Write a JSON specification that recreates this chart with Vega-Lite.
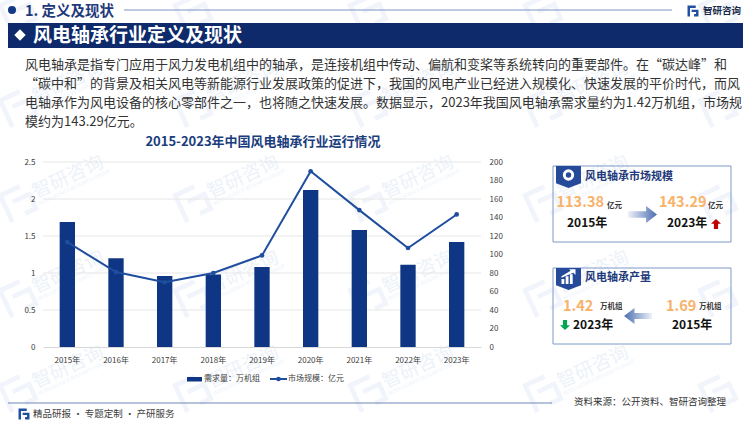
{
"$schema":"https://vega.github.io/schema/vega-lite/v6.json",
"width":438,"height":185,
"autosize":{"type":"none"},
"padding":{"left":43,"top":162,"right":269,"bottom":74},
"background":"white",
"config":{"font":"Noto Sans CJK SC","view":{"stroke":null},"scale":{"pointPadding":0}},
"datasets":{
"wm":[{"c":"a","r":"1"},{"c":"b","r":"1"},{"c":"c","r":"1"},{"c":"d","r":"1"},{"c":"a","r":"2"},{"c":"b","r":"2"},{"c":"c","r":"2"},{"c":"d","r":"2"},{"c":"a","r":"3"},{"c":"b","r":"3"},{"c":"c","r":"3"},{"c":"d","r":"3"},{"c":"a","r":"4"},{"c":"b","r":"4"},{"c":"c","r":"4"},{"c":"d","r":"4"}],
"wmlogo":[{"c":"a","r":"0"},{"c":"b","r":"0"},{"c":"c","r":"0"},{"c":"d","r":"0"},{"c":"e","r":"0"},{"c":"a","r":"1"},{"c":"b","r":"1"},{"c":"c","r":"1"},{"c":"d","r":"1"},{"c":"e","r":"1"},{"c":"a","r":"2"},{"c":"b","r":"2"},{"c":"c","r":"2"},{"c":"d","r":"2"},{"c":"e","r":"2"},{"c":"a","r":"3"},{"c":"b","r":"3"},{"c":"c","r":"3"},{"c":"d","r":"3"},{"c":"e","r":"3"},{"c":"a","r":"4"},{"c":"b","r":"4"},{"c":"c","r":"4"},{"c":"d","r":"4"},{"c":"e","r":"4"}],
"series":[
{"year":"2015年","demand":1.69,"market":113.38},
{"year":"2016年","demand":1.2,"market":81},
{"year":"2017年","demand":0.96,"market":70},
{"year":"2018年","demand":0.98,"market":80},
{"year":"2019年","demand":1.08,"market":99},
{"year":"2020年","demand":2.12,"market":190},
{"year":"2021年","demand":1.58,"market":148},
{"year":"2022年","demand":1.11,"market":107},
{"year":"2023年","demand":1.42,"market":143.29}],
"ticks":[{"v":0.5},{"v":1},{"v":1.5},{"v":2},{"v":2.5}]
},
"layer":[
{"data":{"name":"wm"},"mark":{"type":"text","text":"智研咨询","fontSize":19,"angle":335,"color":"#edf2f9"},
 "encoding":{"x":{"field":"c","type":"nominal","axis":null,"scale":{"type":"point","domain":["a","b","c","d"],"range":[25,550]}},"y":{"field":"r","type":"nominal","axis":null,"scale":{"type":"point","domain":["1","2","3","4"],"range":[-80,205]}}}},
{"data":{"name":"wm"},"mark":{"type":"text","text":"INTELLIGENCE RESEARCH GROUP","fontSize":5,"angle":335,"color":"#eef3fa"},
 "encoding":{"x":{"field":"c","type":"nominal","axis":null,"scale":{"type":"point","domain":["a","b","c","d"],"range":[31,556]}},"y":{"field":"r","type":"nominal","axis":null,"scale":{"type":"point","domain":["1","2","3","4"],"range":[-70,215]}}}},
{"data":{"name":"wmlogo"},"mark":{"type":"point","shape":"M-1,-1H0.5V-0.7H-0.7V1H-1Z M-0.3,-0.3H1V1H0.1V0.7H0.7V0H-0.3Z","size":1000,"angle":335,"filled":true,"fill":"#f1f5fb","opacity":1},
 "encoding":{"x":{"field":"c","type":"nominal","axis":null,"scale":{"type":"point","domain":["a","b","c","d","e"],"range":[-25,675]}},"y":{"field":"r","type":"nominal","axis":null,"scale":{"type":"point","domain":["0","1","2","3","4"],"range":[-150,230]}}}},

{"data":{"name":"series"},
 "layer":[
  {"data":{"name":"ticks"},"mark":{"type":"rule","color":"#e6e6e6","strokeWidth":1},
   "encoding":{"y":{"field":"v","type":"quantitative","axis":null,"scale":{"domain":[0,2.5],"nice":false}}}},
  {"mark":{"type":"bar","color":"#0f3684"},
   "encoding":{"x":{"field":"year","type":"nominal","sort":null,"title":null,"scale":{"type":"band","paddingInner":0.685,"paddingOuter":0.3425},"axis":{"labelAngle":0,"labelFontSize":8,"labelColor":"#404040","ticks":false,"domainColor":"#d9d9d9","labelPadding":9,"grid":false,"zindex":1}},
    "y":{"field":"demand","type":"quantitative","title":null,"scale":{"domain":[0,2.5],"nice":false},"axis":{"values":[0,0.5,1,1.5,2,2.5],"format":".1~f","labelFontSize":8,"labelColor":"#404040","ticks":false,"domain":false,"grid":false,"labelPadding":8,"zindex":1}}}},
  {"mark":{"type":"line","color":"#1f4e9e","strokeWidth":2,"point":{"filled":true,"size":22,"color":"#1f4e9e"}},
   "encoding":{"x":{"field":"year","type":"nominal","sort":null,"title":null},
    "y":{"field":"market","type":"quantitative","title":null,"scale":{"domain":[0,200],"nice":false},"axis":{"orient":"right","values":[0,20,40,60,80,100,120,140,160,180,200],"labelFontSize":8,"labelColor":"#404040","ticks":false,"domain":false,"grid":false,"labelPadding":8,"zindex":1}}}}
 ],"resolve":{"scale":{"y":"independent"}}},

{"data":{"values":[{"a":"l","b":"r","y":"y"}]},"mark":{"type":"rule","color":"#7f95c4","strokeWidth":1},
 "encoding":{"x":{"field":"a","type":"nominal","axis":null,"scale":{"type":"point","domain":["l","r"],"range":[81,629]}},"x2":{"field":"b"},"y":{"field":"y","type":"nominal","axis":null,"scale":{"type":"point","domain":["y"],"range":[-152,-152]}}}},
{"data":{"values":[{"a":"l","b":"r","y":"y"}]},"mark":{"type":"rule","color":"#6f86b8","strokeWidth":1},
 "encoding":{"x":{"field":"a","type":"nominal","axis":null,"scale":{"type":"point","domain":["l","r"],"range":[-35,509]}},"x2":{"field":"b"},"y":{"field":"y","type":"nominal","axis":null,"scale":{"type":"point","domain":["y"],"range":[241,241]}}}},
{"data":{"values":[{"a":"l","y":"y"}]},"mark":{"type":"point","shape":"circle","filled":true,"size":64,"color":"#123a86","opacity":1},
 "encoding":{"x":{"field":"a","type":"nominal","axis":null,"scale":{"type":"point","domain":["l"],"range":[-31,-31]}},"y":{"field":"y","type":"nominal","axis":null,"scale":{"type":"point","domain":["y"],"range":[-152,-152]}}}},
{"data":{"values":[{"a":"l","b":"r","t":"t","u":"u"}]},"mark":{"type":"rect","color":"#0e2a6b"},
 "encoding":{"x":{"field":"a","type":"nominal","axis":null,"scale":{"type":"point","domain":["l","r"],"range":[-35,700]}},"x2":{"field":"b"},"y":{"field":"t","type":"nominal","axis":null,"scale":{"type":"point","domain":["t","u"],"range":[-139,-114]}},"y2":{"field":"u"}}},
{"data":{"values":[{"a":"l","b":"r","t":"t","u":"u"}]},"mark":{"type":"rect","fillOpacity":0,"stroke":"#7f9ac8","strokeWidth":1},
 "encoding":{"x":{"field":"a","type":"nominal","axis":null,"scale":{"type":"point","domain":["l","r"],"range":[510,688]}},"x2":{"field":"b"},"y":{"field":"t","type":"nominal","axis":null,"scale":{"type":"point","domain":["t","u"],"range":[4,80]}},"y2":{"field":"u"}}},
{"data":{"values":[{"a":"l","b":"r","t":"t","u":"u"}]},"mark":{"type":"rect","fillOpacity":0,"stroke":"#7f9ac8","strokeWidth":1},
 "encoding":{"x":{"field":"a","type":"nominal","axis":null,"scale":{"type":"point","domain":["l","r"],"range":[510,688]}},"x2":{"field":"b"},"y":{"field":"t","type":"nominal","axis":null,"scale":{"type":"point","domain":["t","u"],"range":[106,182]}},"y2":{"field":"u"}}},
{"data":{"values":[{"a":"l","y":"y"}]},"mark":{"type":"point","shape":"diamond","filled":true,"size":130,"color":"white","opacity":1},
 "encoding":{"x":{"field":"a","type":"nominal","axis":null,"scale":{"type":"point","domain":["l"],"range":[-23,-23]}},"y":{"field":"y","type":"nominal","axis":null,"scale":{"type":"point","domain":["y"],"range":[-127,-127]}}}},
{"data":{"values":[{"a":"t","y":"p"},{"a":"f","y":"q"}]},"mark":{"type":"point","shape":"M-1,-1H0.5V-0.55H-0.55V1H-1Z M-0.25,-0.25H1V1H0.2V0.55H0.55V0.2H-0.25Z","filled":true,"size":120,"color":"#2050a0","opacity":1},
 "encoding":{"x":{"field":"a","type":"nominal","axis":null,"scale":{"type":"point","domain":["f","t"],"range":[-19,650]}},"y":{"field":"y","type":"nominal","axis":null,"scale":{"type":"point","domain":["p","q"],"range":[-151,252]}}}},

{"data":{"values":[{"a":"a","y":"y"},{"a":"a","y":"z"}]},"mark":{"type":"point","shape":"M-1,-0.88H1V0.5L0,0.88L-1,0.5Z","filled":true,"size":625,"color":"#254a99","opacity":1},
 "encoding":{"x":{"field":"a","type":"nominal","axis":null,"scale":{"type":"point","domain":["a"],"range":[525.5,525.5]}},"y":{"field":"y","type":"nominal","axis":null,"scale":{"type":"point","domain":["y","z"],"range":[15,117]}}}},
{"data":{"values":[{"a":"a","y":"y"}]},"mark":{"type":"point","shape":"circle","filled":false,"size":70,"color":"white","strokeWidth":3,"opacity":1},
 "encoding":{"x":{"field":"a","type":"nominal","axis":null,"scale":{"type":"point","domain":["a"],"range":[525.5,525.5]}},"y":{"field":"y","type":"nominal","axis":null,"scale":{"type":"point","domain":["y"],"range":[13,13]}}}},
{"data":{"values":[{"a":"a","y":"y"}]},"mark":{"type":"point","shape":"M-1,1V0.3H-0.6V1ZM-0.4,1V-0.1H0V1ZM0.2,1V-0.4H0.6V1ZM-1,-0.1L0.3,-0.9L0.1,-1.1H1V-0.3L0.7,-0.6L-1,0.1Z","filled":true,"size":196,"color":"white","opacity":1},
 "encoding":{"x":{"field":"a","type":"nominal","axis":null,"scale":{"type":"point","domain":["a"],"range":[525.5,525.5]}},"y":{"field":"y","type":"nominal","axis":null,"scale":{"type":"point","domain":["y"],"range":[115,115]}}}},
{"data":{"values":[{"a":"a","y":"y"}]},"mark":{"type":"point","shape":"M-1,-0.22H0.25V-0.58L1,0L0.25,0.58V0.22H-1Z","filled":true,"size":841,"opacity":1,"fill":{"gradient":"linear","x1":0,"x2":1,"y1":0,"y2":0,"stops":[{"offset":0,"color":"#eef2f9"},{"offset":1,"color":"#4a6db0"}]}},
 "encoding":{"x":{"field":"a","type":"nominal","axis":null,"scale":{"type":"point","domain":["a"],"range":[599.5,599.5]}},"y":{"field":"y","type":"nominal","axis":null,"scale":{"type":"point","domain":["y"],"range":[52.5,52.5]}}}},
{"data":{"values":[{"a":"a","y":"y"}]},"mark":{"type":"point","shape":"M1,-0.22H-0.25V-0.58L-1,0L-0.25,0.58V0.22H1Z","filled":true,"size":784,"opacity":1,"fill":{"gradient":"linear","x1":0,"x2":1,"y1":0,"y2":0,"stops":[{"offset":0,"color":"#4a6db0"},{"offset":1,"color":"#eef2f9"}]}},
 "encoding":{"x":{"field":"a","type":"nominal","axis":null,"scale":{"type":"point","domain":["a"],"range":[595,595]}},"y":{"field":"y","type":"nominal","axis":null,"scale":{"type":"point","domain":["y"],"range":[154,154]}}}},
{"data":{"values":[{"a":"a","y":"y"}]},"mark":{"type":"point","shape":"M0,-1L1,-0.05H0.42V1H-0.42V-0.05H-1Z","filled":true,"size":100,"color":"#c00000","opacity":1},
 "encoding":{"x":{"field":"a","type":"nominal","axis":null,"scale":{"type":"point","domain":["a"],"range":[673,673]}},"y":{"field":"y","type":"nominal","axis":null,"scale":{"type":"point","domain":["y"],"range":[62,62]}}}},
{"data":{"values":[{"a":"a","y":"y"}]},"mark":{"type":"point","shape":"M0,1L1,0.05H0.42V-1H-0.42V0.05H-1Z","filled":true,"size":100,"color":"#00a651","opacity":1},
 "encoding":{"x":{"field":"a","type":"nominal","axis":null,"scale":{"type":"point","domain":["a"],"range":[522,522]}},"y":{"field":"y","type":"nominal","axis":null,"scale":{"type":"point","domain":["y"],"range":[163,163]}}}},

{"data":{"values":[{"a":"l","b":"r","y":"y","z":"z"}]},"mark":{"type":"rect","color":"#0f3684"},
 "encoding":{"x":{"field":"a","type":"nominal","axis":null,"scale":{"type":"point","domain":["l","r"],"range":[144,159]}},"x2":{"field":"b"},"y":{"field":"y","type":"nominal","axis":null,"scale":{"type":"point","domain":["y","z"],"range":[215,219.5]}},"y2":{"field":"z"}}},
{"data":{"values":[{"a":"l","b":"r","y":"y"}]},"mark":{"type":"rule","color":"#1f4e9e","strokeWidth":2},
 "encoding":{"x":{"field":"a","type":"nominal","axis":null,"scale":{"type":"point","domain":["l","r"],"range":[227,244]}},"x2":{"field":"b"},"y":{"field":"y","type":"nominal","axis":null,"scale":{"type":"point","domain":["y"],"range":[217,217]}}}},
{"data":{"values":[{"a":"l","y":"y"}]},"mark":{"type":"point","shape":"circle","filled":true,"size":22,"color":"#1f4e9e","opacity":1},
 "encoding":{"x":{"field":"a","type":"nominal","axis":null,"scale":{"type":"point","domain":["l"],"range":[235.5,235.5]}},"y":{"field":"y","type":"nominal","axis":null,"scale":{"type":"point","domain":["y"],"range":[217,217]}}}},

{"data":{"values":[{"t":"风电轴承是指专门应用于风力发电机组中的轴承，是连接机组中传动、偏航和变桨等系统转向的重要部件。在“碳达峰”和","l":"1","a":"a"},{"t":"“碳中和”的背景及相关风电等新能源行业发展政策的促进下，我国的风电产业已经进入规模化、快速发展的平价时代，而风","l":"2","a":"a"},{"t":"电轴承作为风电设备的核心零部件之一，也将随之快速发展。数据显示，2023年我国风电轴承需求量约为1.42万机组，市场规","l":"3","a":"a"},{"t":"模约为143.29亿元。","l":"4","a":"a"}]},
 "mark":{"type":"text","fontSize":13,"color":"#333333","align":"left","baseline":"middle"},
 "encoding":{"text":{"field":"t"},"x":{"field":"a","type":"nominal","axis":null,"scale":{"type":"point","domain":["a"],"range":[-18,-18]}},"y":{"field":"l","type":"nominal","axis":null,"scale":{"type":"point","domain":["1","2","3","4"],"range":[-97,-40]}}}},
{"data":{"values":[{"t":"1. 定义及现状","a":"a","y":"y"}]},"mark":{"type":"text","fontSize":14.5,"fontWeight":"bold","color":"#1f3a7a","align":"left","baseline":"middle"},
 "encoding":{"text":{"field":"t"},"x":{"field":"a","type":"nominal","axis":null,"scale":{"type":"point","domain":["a"],"range":[-18,-18]}},"y":{"field":"y","type":"nominal","axis":null,"scale":{"type":"point","domain":["y"],"range":[-150,-150]}}}},
{"data":{"values":[{"t":"智研咨询","a":"a","y":"y"}]},"mark":{"type":"text","fontSize":9.5,"fontWeight":"bold","color":"#1a2a4a","align":"left","baseline":"middle"},
 "encoding":{"text":{"field":"t"},"x":{"field":"a","type":"nominal","axis":null,"scale":{"type":"point","domain":["a"],"range":[660,660]}},"y":{"field":"y","type":"nominal","axis":null,"scale":{"type":"point","domain":["y"],"range":[-151,-151]}}}},
{"data":{"values":[{"t":"风电轴承行业定义及现状","a":"a","y":"y"}]},"mark":{"type":"text","fontSize":19,"fontWeight":"bold","color":"white","align":"left","baseline":"middle"},
 "encoding":{"text":{"field":"t"},"x":{"field":"a","type":"nominal","axis":null,"scale":{"type":"point","domain":["a"],"range":[-10,-10]}},"y":{"field":"y","type":"nominal","axis":null,"scale":{"type":"point","domain":["y"],"range":[-126,-126]}}}},
{"data":{"values":[{"t":"2015-2023年中国风电轴承行业运行情况","a":"a","y":"y"}]},"mark":{"type":"text","fontSize":13,"fontWeight":"bold","color":"#1a3d7c","align":"center","baseline":"middle"},
 "encoding":{"text":{"field":"t"},"x":{"field":"a","type":"nominal","axis":null,"scale":{"type":"point","domain":["a"],"range":[220,220]}},"y":{"field":"y","type":"nominal","axis":null,"scale":{"type":"point","domain":["y"],"range":[-20,-20]}}}},
{"data":{"values":[{"t":"需求量：万机组","a":"a","y":"y"},{"t":"市场规模：亿元","a":"b","y":"y"}]},"mark":{"type":"text","fontSize":8,"color":"#404040","align":"left","baseline":"middle"},
 "encoding":{"text":{"field":"t"},"x":{"field":"a","type":"nominal","axis":null,"scale":{"type":"point","domain":["a","b"],"range":[161,245]}},"y":{"field":"y","type":"nominal","axis":null,"scale":{"type":"point","domain":["y"],"range":[217,217]}}}},
{"data":{"values":[{"t":"资料来源：公开资料、智研咨询整理","a":"a","y":"y"}]},"mark":{"type":"text","fontSize":9.5,"color":"#333333","align":"left","baseline":"middle"},
 "encoding":{"text":{"field":"t"},"x":{"field":"a","type":"nominal","axis":null,"scale":{"type":"point","domain":["a"],"range":[531,531]}},"y":{"field":"y","type":"nominal","axis":null,"scale":{"type":"point","domain":["y"],"range":[240,240]}}}},
{"data":{"values":[{"t":"精品研报 · 专题定制 · 产研服务","a":"a","y":"y"}]},"mark":{"type":"text","fontSize":9.5,"color":"#404040","align":"left","baseline":"middle"},
 "encoding":{"text":{"field":"t"},"x":{"field":"a","type":"nominal","axis":null,"scale":{"type":"point","domain":["a"],"range":[-10,-10]}},"y":{"field":"y","type":"nominal","axis":null,"scale":{"type":"point","domain":["y"],"range":[252,252]}}}},
{"data":{"values":[{"t":"风电轴承市场规模","a":"a","y":"y"},{"t":"风电轴承产量","a":"a","y":"z"}]},"mark":{"type":"text","fontSize":11,"fontWeight":"bold","color":"#1f3a7a","align":"left","baseline":"middle"},
 "encoding":{"text":{"field":"t"},"x":{"field":"a","type":"nominal","axis":null,"scale":{"type":"point","domain":["a"],"range":[542,542]}},"y":{"field":"y","type":"nominal","axis":null,"scale":{"type":"point","domain":["y","z"],"range":[14.5,116]}}}},
{"data":{"values":[{"v":113.38,"a":"a","y":"y"},{"v":143.29,"a":"b","y":"y"}]},"mark":{"type":"text","fontSize":14.5,"fontWeight":"bold","color":"#f8b26a","align":"left","baseline":"middle"},
 "encoding":{"text":{"field":"v","type":"quantitative","format":".2f"},"x":{"field":"a","type":"nominal","axis":null,"scale":{"type":"point","domain":["a","b"],"range":[513.5,616]}},"y":{"field":"y","type":"nominal","axis":null,"scale":{"type":"point","domain":["y"],"range":[41,41]}}}},
{"data":{"values":[{"v":1.42,"a":"a","y":"y"},{"v":1.69,"a":"b","y":"y"}]},"mark":{"type":"text","fontSize":14.5,"fontWeight":"bold","color":"#f8b26a","align":"left","baseline":"middle"},
 "encoding":{"text":{"field":"v","type":"quantitative","format":".2f"},"x":{"field":"a","type":"nominal","axis":null,"scale":{"type":"point","domain":["a","b"],"range":[520,623]}},"y":{"field":"y","type":"nominal","axis":null,"scale":{"type":"point","domain":["y"],"range":[144.5,144.5]}}}},
{"data":{"values":[{"t":"亿元","a":"a","y":"y"},{"t":"亿元","a":"b","y":"y"}]},"mark":{"type":"text","fontSize":7.5,"fontWeight":"bold","color":"#333333","align":"left","baseline":"middle"},
 "encoding":{"text":{"field":"t"},"x":{"field":"a","type":"nominal","axis":null,"scale":{"type":"point","domain":["a","b"],"range":[564,665]}},"y":{"field":"y","type":"nominal","axis":null,"scale":{"type":"point","domain":["y"],"range":[44,44]}}}},
{"data":{"values":[{"t":"万机组","a":"a","y":"y"},{"t":"万机组","a":"b","y":"y"}]},"mark":{"type":"text","fontSize":7.5,"fontWeight":"bold","color":"#333333","align":"left","baseline":"middle"},
 "encoding":{"text":{"field":"t"},"x":{"field":"a","type":"nominal","axis":null,"scale":{"type":"point","domain":["a","b"],"range":[557,656]}},"y":{"field":"y","type":"nominal","axis":null,"scale":{"type":"point","domain":["y"],"range":[145,145]}}}},
{"data":{"values":[{"t":"2015年","a":"a","y":"y"},{"t":"2023年","a":"b","y":"y"}]},"mark":{"type":"text","fontSize":12,"fontWeight":"bold","color":"#111111","align":"left","baseline":"middle"},
 "encoding":{"text":{"field":"t"},"x":{"field":"a","type":"nominal","axis":null,"scale":{"type":"point","domain":["a","b"],"range":[524,624]}},"y":{"field":"y","type":"nominal","axis":null,"scale":{"type":"point","domain":["y"],"range":[60.5,60.5]}}}},
{"data":{"values":[{"t":"2023年","a":"a","y":"y"},{"t":"2015年","a":"b","y":"y"}]},"mark":{"type":"text","fontSize":12,"fontWeight":"bold","color":"#111111","align":"left","baseline":"middle"},
 "encoding":{"text":{"field":"t"},"x":{"field":"a","type":"nominal","axis":null,"scale":{"type":"point","domain":["a","b"],"range":[530,629]}},"y":{"field":"y","type":"nominal","axis":null,"scale":{"type":"point","domain":["y"],"range":[163,163]}}}}
],
"resolve":{"scale":{"x":"independent","y":"independent"}}
}
